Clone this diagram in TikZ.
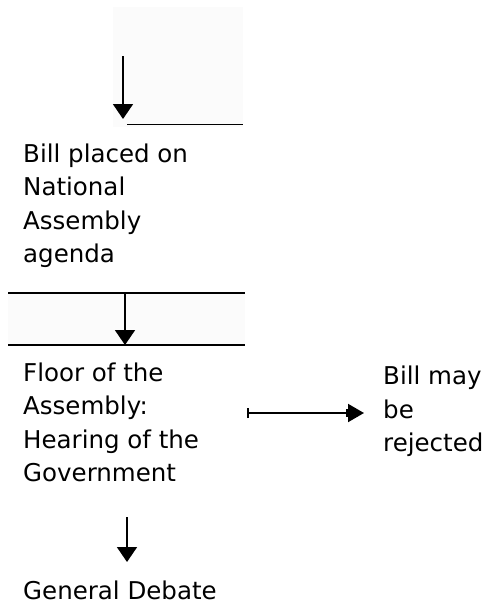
\documentclass[tikz,border=0pt]{standalone}
\usepackage{fontspec}
\setmainfont{DejaVu Sans}
\usetikzlibrary{arrows.meta}
\begin{document}
\begin{tikzpicture}[x=1pt, y=-1pt,
    every node/.style={font=\fontsize{24.5}{33.5}\selectfont, align=left, anchor=north west, inner sep=0pt},
    rule/.style={line width=1.8pt, black},
    shade/.style={fill=black!1.5, draw=none},
    arr/.style={-{Triangle[width=20pt, length=15pt]}, line width=1.8pt, black},
    harr/.style={{Bar[width=10pt]}-{Bar[width=8pt] Triangle[width=18pt, length=16pt]}, line width=2pt, black}
]
\useasboundingbox (0,0) rectangle (490,614);
\fill[shade] (113,7) rectangle (243,127);
\fill[shade] (8,293) rectangle (245,345);

\node (placed) at (23, 143.4) {Bill placed on\\National\\Assembly\\agenda};
\node (floor)  at (23, 362.4) {Floor of the\\Assembly:\\Hearing of the\\Government};
\node (reject) at (383, 365.8) {Bill may\\be\\rejected};
\node (debate) at (23, 580.4) {General Debate};

\coordinate (a1s) at (123, 56);
\coordinate (a1e) at (123, 119);
\coordinate (l1a) at (127, 124.5);
\coordinate (l1b) at (243, 124.5);
\coordinate (l2a) at (8, 293);
\coordinate (l2b) at (245, 293);
\coordinate (l3a) at (8, 345);
\coordinate (l3b) at (245, 345);
\coordinate (a2s) at (125, 293);
\coordinate (a2e) at (125, 345);
\coordinate (hs)  at (247, 413);
\coordinate (he)  at (364, 413);
\coordinate (a3s) at (127, 517);
\coordinate (a3e) at (127, 562);

\draw[arr] (a1s) -- (a1e);
\draw[rule] (l1a) -- (l1b);
\draw[rule] (l2a) -- (l2b);
\draw[rule] (l3a) -- (l3b);
\draw[arr] (a2s) -- (a2e);
\draw[harr] (hs) -- (he);
\draw[arr] (a3s) -- (a3e);
\end{tikzpicture}
\end{document}
